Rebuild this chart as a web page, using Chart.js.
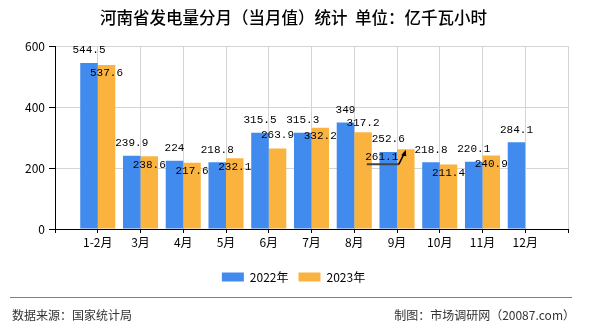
<!DOCTYPE html>
<html>
<head>
<meta charset="utf-8">
<script src="https://cdn.jsdelivr.net/npm/chart.js@4/dist/chart.umd.min.js"></script>
<style>
  html, body { margin: 0; padding: 0; background: #fff; }
  #wrap { position: relative; width: 590px; height: 330px; overflow: hidden; }
  #c { position: absolute; left: 0; top: 0; }
  #sep { position: absolute; left: 10px; top: 297px; width: 562px; height: 0; border-top: 1px solid #808080; }
  .foot { position: absolute; top: 306px; font: 12px "Noto Sans CJK SC", sans-serif; color: #333; line-height: 18px; white-space: nowrap; }
  #srcL { left: 12px; }
  #srcR { right: 15px; }
</style>
</head>
<body>
<div id="wrap">
  <canvas id="c" width="590" height="330"></canvas>
  <div id="sep"></div>
  <div class="foot" id="srcL">数据来源：国家统计局</div>
  <div class="foot" id="srcR">制图：市场调研网（20087.com）</div>
</div>
<script>
// ---- data ----
const months = ['1-2月','3月','4月','5月','6月','7月','8月','9月','10月','11月','12月'];
const series2022 = [544.5, 239.9, 224, 218.8, 315.5, 315.3, 349, 252.6, 218.8, 220.1, 284.1];
const series2023 = [537.6, 238.6, 217.6, 232.1, 263.9, 332.2, 317.2, 261.1, 211.4, 240.9, null];
const seriesNames = ['2022年', '2023年'];
const yTicks = [0, 200, 400, 600];
const titleText = '河南省发电量分月（当月值）统计  单位：亿千瓦小时';

// padded category axis: an empty slot at each end so labels sit on grid lines
const labels = [''].concat(months, ['']);
const pad = arr => [null].concat(arr, [null]);

// label placement tweaks for the 2023 series (by month name)
const label2023Tweak = { '6月': { dx: 0, dy: -13 }, '8月': { dx: 0, dy: -9 }, '9月': { dx: -24, dy: 8, leader: true } };

const valueLabels = {
  id: 'valueLabels',
  afterDatasetsDraw(chart) {
    const ctx = chart.ctx;
    ctx.save();
    ctx.font = '11px "Liberation Mono", "DejaVu Sans Mono", monospace';
    ctx.textAlign = 'center';
    ctx.textBaseline = 'middle';
    chart.data.datasets.forEach((ds, di) => {
      const meta = chart.getDatasetMeta(di);
      meta.data.forEach((el, i) => {
        const v = ds.data[i];
        if (v === null || v === undefined) return;
        const txt = String(v);
        let dx = 0, dy = -12.5, leader = false;
        if (di === 1) {
          dy = 8.5;
          const t = label2023Tweak[chart.data.labels[i]];
          if (t) { dx = t.dx; dy = t.dy; leader = !!t.leader; }
        }
        if (leader) {
          const cx = el.x, ty = el.y;
          ctx.strokeStyle = '#444';
          ctx.lineWidth = 2;
          ctx.beginPath();
          ctx.moveTo(cx - 39, ty + 15);
          ctx.lineTo(cx - 7, ty + 15);
          ctx.stroke();
          ctx.strokeStyle = '#000';
          ctx.lineWidth = 1.5;
          ctx.beginPath();
          ctx.moveTo(cx - 7, ty + 15);
          ctx.lineTo(cx - 1, ty + 3);
          ctx.stroke();
          ctx.fillStyle = '#000';
          ctx.beginPath();
          ctx.moveTo(cx, ty + 0.5);
          ctx.lineTo(cx - 4.5, ty + 6);
          ctx.lineTo(cx + 0.5, ty + 7);
          ctx.closePath();
          ctx.fill();
        }
        ctx.fillStyle = '#000';
        ctx.fillText(txt, el.x + dx, el.y + dy);
      });
    });
    ctx.restore();
  }
};

new Chart(document.getElementById('c'), {
  type: 'bar',
  data: {
    labels: labels,
    datasets: [
      { label: seriesNames[0], data: pad(series2022), backgroundColor: '#428bee', categoryPercentage: 0.82, barPercentage: 1.0 },
      { label: seriesNames[1], data: pad(series2023), backgroundColor: '#fbb340', categoryPercentage: 0.82, barPercentage: 1.0 }
    ]
  },
  options: {
    responsive: false,
    animation: false,
    devicePixelRatio: 1,
    layout: { padding: { left: 0, right: 3, top: 0, bottom: 37 } },
    plugins: {
      title: {
        display: true,
        text: titleText,
        color: '#000',
        font: { family: '"Noto Sans CJK SC", sans-serif', size: 16.5, weight: '500', lineHeight: 1.2 },
        padding: { top: 8, bottom: 18.2 }
      },
      legend: {
        display: true,
        position: 'bottom',
        labels: {
          color: '#000',
          font: { family: '"Noto Sans CJK SC", sans-serif', size: 12 },
          boxWidth: 22,
          boxHeight: 9,
          padding: 10
        }
      },
      tooltip: { enabled: false }
    },
    scales: {
      x: {
        type: 'category',
        offset: false,
        grid: { display: true, offset: false, color: '#d4d4d4', drawTicks: true, tickLength: 4, tickColor: '#000' },
        border: { display: true, color: '#000', width: 1 },
        ticks: { color: '#000', font: { family: '"Noto Sans CJK SC", sans-serif', size: 12 }, padding: 2, maxRotation: 0, autoSkip: false },
        afterFit(scale) { scale.height = 32; }
      },
      y: {
        min: 0,
        max: 600,
        afterBuildTicks(scale) { scale.ticks = yTicks.map(v => ({ value: v })); },
        grid: { color: '#d4d4d4', drawTicks: true, tickLength: 6, tickColor: '#000' },
        border: { display: true, color: '#000', width: 1 },
        ticks: { color: '#000', font: { family: '"Noto Sans CJK SC", sans-serif', size: 12 }, padding: 4 },
        afterFit(scale) { scale.width = 55; }
      },
      yRight: {
        type: 'linear',
        position: 'right',
        display: true,
        grid: { display: false, drawTicks: false },
        border: { display: false },
        ticks: { display: false },
        afterFit(scale) { scale.width = 19; }
      }
    }
  },
  plugins: [valueLabels]
});
</script>
</body>
</html>
